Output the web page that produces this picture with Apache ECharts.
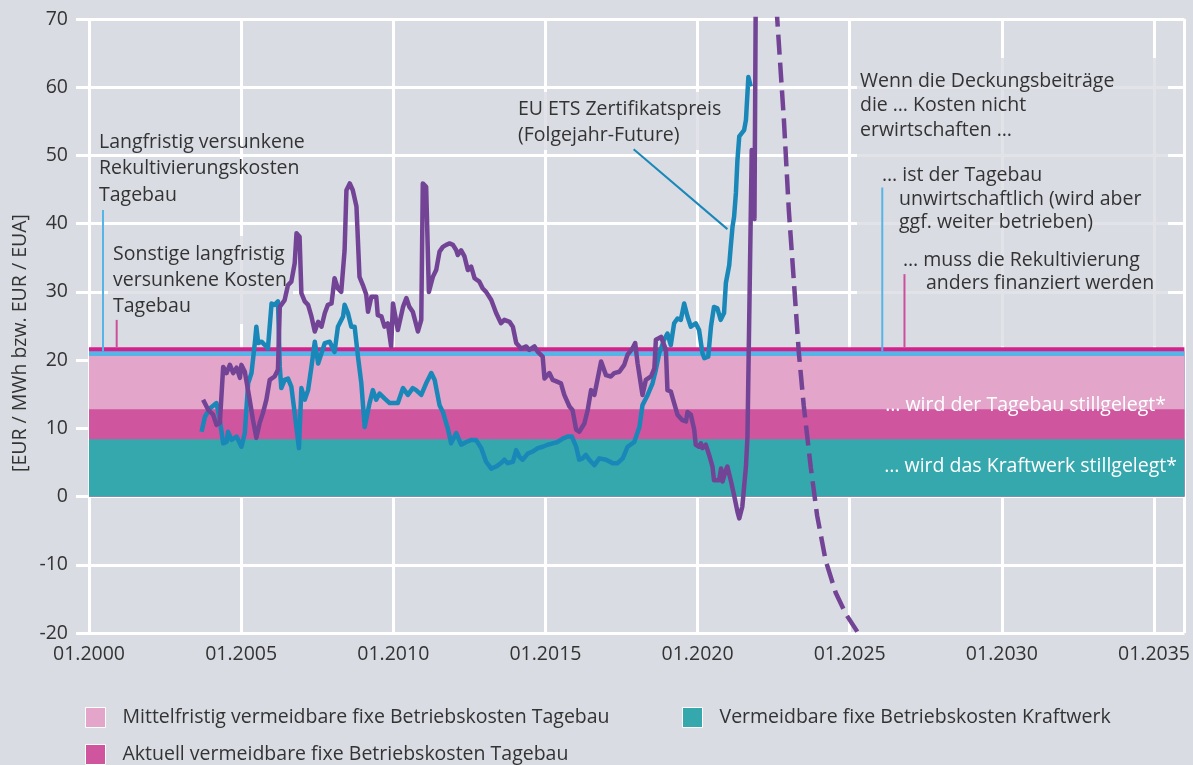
<!DOCTYPE html>
<html><head><meta charset="utf-8">
<script src="https://cdn.jsdelivr.net/npm/echarts@6/dist/echarts.min.js"></script>
<style>html,body{margin:0;padding:0;background:#d9dce3}#c{width:1193px;height:765px}</style>
</head><body><div id="c"></div>
<script>
// ---------- DATA ----------
// Deckungsbeitrag (purple), decimal years
const spreadYears = [2003.75,2003.92,2004.08,2004.19,2004.30,2004.41,2004.52,2004.63,2004.74,2004.85,2004.96,2005.01,2005.12,2005.28,2005.39,2005.50,2005.61,2005.72,2005.83,2005.94,2006.10,2006.21,2006.27,2006.43,2006.54,2006.65,2006.76,2006.82,2006.92,2006.98,2007.09,2007.20,2007.31,2007.42,2007.53,2007.64,2007.75,2007.85,2007.97,2008.07,2008.18,2008.29,2008.40,2008.46,2008.57,2008.67,2008.79,2008.89,2009.00,2009.11,2009.17,2009.28,2009.44,2009.49,2009.61,2009.71,2009.82,2009.93,2009.99,2010.15,2010.32,2010.43,2010.53,2010.64,2010.81,2010.92,2010.97,2011.08,2011.17,2011.30,2011.41,2011.52,2011.63,2011.74,2011.85,2011.96,2012.07,2012.12,2012.23,2012.34,2012.45,2012.56,2012.67,2012.83,2012.94,2013.05,2013.22,2013.38,2013.54,2013.65,2013.82,2013.93,2014.04,2014.20,2014.37,2014.47,2014.64,2014.75,2014.91,2014.97,2015.13,2015.24,2015.40,2015.51,2015.62,2015.79,2015.89,2016.01,2016.11,2016.28,2016.39,2016.50,2016.61,2016.83,2016.99,2017.15,2017.26,2017.43,2017.59,2017.70,2017.86,2017.95,2018.03,2018.19,2018.30,2018.47,2018.58,2018.63,2018.80,2018.96,2019.01,2019.12,2019.23,2019.34,2019.50,2019.62,2019.67,2019.78,2019.89,2019.94,2020.05,2020.11,2020.16,2020.27,2020.38,2020.49,2020.54,2020.71,2020.77,2020.82,2020.93,2020.98,2021.09,2021.20,2021.31,2021.37,2021.47,2021.59,2021.64,2021.78,2021.87,2021.96];
const spreadValues = [14.2,12.7,12.0,10.5,10.8,19.0,18.1,19.3,18.1,18.9,17.4,19.3,18.3,14.2,11.2,8.6,10.8,12.3,14.2,17.1,17.6,18.6,27.8,28.8,31.0,31.5,34.2,38.6,38.1,29.8,28.6,28.1,26.4,24.2,25.6,24.9,26.9,28.1,28.3,32.0,30.5,30.0,36.1,44.9,45.9,44.9,42.5,32.2,31.0,29.6,27.1,29.3,29.3,26.6,26.4,24.9,25.4,22.0,28.3,24.4,27.8,29.1,27.8,27.1,24.2,25.9,45.9,45.4,30.0,32.2,33.2,35.9,36.6,36.9,37.1,36.9,36.1,35.4,36.1,35.2,33.2,33.7,32.0,31.5,30.5,30.0,28.8,26.9,25.4,25.9,25.6,24.9,22.5,21.7,22.0,21.5,22.0,21.2,20.5,17.3,18.1,17.1,16.8,16.6,14.9,13.2,12.7,9.8,9.5,10.7,12.7,15.6,14.9,19.8,17.8,17.6,18.1,18.3,19.3,20.8,21.7,22.5,19.5,14.9,17.1,17.6,18.8,23.0,23.4,21.5,15.6,15.4,13.7,12.0,11.2,11.0,12.4,12.0,9.8,7.6,7.3,7.8,7.1,7.6,6.1,4.4,2.4,2.4,4.1,2.2,3.9,4.4,2.4,0.2,-2.2,-3.2,-1.5,4.4,8.8,50.8,40.7,110];
// Forward curve (dashed purple)
const forwardYears = [2022.47,2022.62,2022.84,2023.00,2023.17,2023.33,2023.49,2023.72,2023.93,2024.21,2024.54,2024.87,2025.25];
const forwardValues = [80,69.9,55.0,41.9,31.2,21.0,13.3,4.3,-2.8,-9.4,-14.1,-17.2,-19.8];
// EU ETS Zertifikatspreis (blue)
const euaYears = [2003.70,2003.81,2003.97,2004.19,2004.30,2004.41,2004.52,2004.57,2004.68,2004.85,2005.01,2005.12,2005.23,2005.34,2005.45,2005.50,2005.56,2005.67,2005.78,2005.88,2006.00,2006.10,2006.21,2006.27,2006.32,2006.43,2006.54,2006.65,2006.76,2006.90,2006.98,2007.09,2007.20,2007.31,2007.42,2007.53,2007.64,2007.75,2007.91,2008.07,2008.18,2008.35,2008.40,2008.51,2008.62,2008.73,2008.84,2008.95,2009.06,2009.22,2009.33,2009.44,2009.55,2009.71,2009.88,2010.15,2010.32,2010.48,2010.64,2010.75,2010.92,2011.08,2011.25,2011.36,2011.52,2011.63,2011.79,2011.90,2012.07,2012.23,2012.40,2012.56,2012.72,2012.89,2013.05,2013.22,2013.38,2013.54,2013.65,2013.76,2013.93,2014.04,2014.15,2014.25,2014.42,2014.58,2014.75,2014.91,2015.07,2015.24,2015.40,2015.57,2015.73,2015.87,2016.01,2016.11,2016.22,2016.33,2016.44,2016.61,2016.77,2016.99,2017.21,2017.37,2017.54,2017.70,2017.92,2018.09,2018.19,2018.36,2018.52,2018.63,2018.74,2018.80,2018.90,2019.01,2019.12,2019.23,2019.34,2019.45,2019.56,2019.67,2019.78,2019.94,2020.05,2020.16,2020.22,2020.35,2020.44,2020.54,2020.65,2020.76,2020.87,2020.93,2021.04,2021.09,2021.15,2021.20,2021.26,2021.31,2021.37,2021.53,2021.59,2021.67,2021.75];
const euaValues = [9.5,11.7,12.9,13.7,11.2,7.8,8.0,9.5,8.3,8.8,7.3,9.3,16.6,18.1,22.5,24.9,22.5,22.7,22.2,21.7,28.3,28.1,28.6,19.0,15.9,17.1,17.3,16.1,12.2,7.1,15.9,14.2,15.6,19.0,22.7,19.5,21.0,22.5,22.7,21.2,24.9,26.4,28.1,26.9,24.9,24.9,20.5,16.6,10.2,13.7,15.6,14.2,15.1,14.4,13.7,13.7,15.9,14.9,15.9,15.6,14.9,16.6,18.1,17.1,13.4,12.4,10.0,7.8,9.3,7.6,8.0,8.3,8.3,7.1,5.1,4.1,4.4,4.9,5.4,4.9,5.1,6.8,5.8,5.4,6.3,6.6,7.1,7.3,7.6,7.8,8.0,8.5,8.8,8.8,7.3,5.4,5.6,6.1,5.4,4.6,5.6,5.4,4.9,4.9,5.6,7.3,8.0,10.2,13.4,14.9,16.6,18.6,21.0,21.7,23.0,23.9,22.2,25.4,26.1,25.9,28.3,26.4,24.9,25.4,24.4,21.0,20.3,20.5,24.9,27.8,27.6,25.9,26.9,31.3,33.9,36.6,39.6,41.0,44.5,49.3,52.8,53.7,55.2,61.5,60.1];
// Cost bands (upper edge, EUR/MWh), drawn from top band to bottom band
const bandNames = ['Rekultivierungskosten (versunken)','Sonstige versunkene Kosten','Mittelfristig vermeidbare fixe Betriebskosten Tagebau','Aktuell vermeidbare fixe Betriebskosten Tagebau','Vermeidbare fixe Betriebskosten Kraftwerk'];
const bandTops = [21.9, 21.3, 20.6, 12.8, 8.4];
const bandColors = ['#d5218b','#56b4e6','#e3a5ca','#cf559f','#35a8ae'];
const bandStart = 2000, bandEnd = 2036;
// Annotation marker lines [year, bottom, top]
const markerLines = [
  {year: 2000.46, from: 21.3, to: 42.0, color: '#56b4e6'},
  {year: 2000.91, from: 21.9, to: 25.9, color: '#cc4f9a'},
  {year: 2026.07, from: 21.3, to: 45.3, color: '#56b4e6'},
  {year: 2026.80, from: 21.9, to: 32.6, color: '#cc4f9a'}
];
const leaderLine = [[2017.90, 50.9],[2020.98, 39.2]];
// Axis ticks
const xMin = 2000, xMax = 2036, xStep = 5;
const yMin = -20, yMax = 70, yStep = 10;
const legendNames = ['Mittelfristig vermeidbare fixe Betriebskosten Tagebau','Vermeidbare fixe Betriebskosten Kraftwerk','Aktuell vermeidbare fixe Betriebskosten Tagebau'];

// ---------- CHART ----------
const FONT = '"Open Sans"';
const FS = 19.5;
const TXT = '#333333';
const BG = '#d9dce3';
const zip = (a, b) => a.map((v, i) => [v, b[i]]);
const chart = echarts.init(document.getElementById('c'), null, {renderer: 'canvas'});

const series = [];
bandNames.forEach((n, i) => {
  series.push({
    name: n, type: 'line', symbol: 'none', z: 1, silent: true,
    data: [[bandStart, bandTops[i]], [bandEnd, bandTops[i]]],
    lineStyle: {width: 0}, itemStyle: {color: bandColors[i]},
    areaStyle: {color: bandColors[i], opacity: 1}
  });
});
markerLines.forEach(m => {
  series.push({type: 'line', symbol: 'none', z: 3, silent: true,
    data: [[m.year, m.from], [m.year, m.to]], lineStyle: {color: m.color, width: 2}});
});
series.push({name: 'EU ETS', type: 'line', symbol: 'none', z: 4, data: zip(euaYears, euaValues),
  lineStyle: {color: '#1a87b9', width: 4.5, join: 'round'}});
series.push({name: 'Deckungsbeitrag', type: 'line', symbol: 'none', z: 5, data: zip(spreadYears, spreadValues),
  lineStyle: {color: '#734496', width: 4.5, join: 'round'}});
series.push({name: 'Forward', type: 'line', symbol: 'none', z: 5, data: zip(forwardYears, forwardValues),
  lineStyle: {color: '#734496', width: 4.5, type: [20, 8]}});
series.push({type: 'line', symbol: 'none', z: 6, data: leaderLine, lineStyle: {color: '#1a87b9', width: 2}});

const legendCommon = {
  orient: 'horizontal', padding: 0, itemWidth: 20, itemHeight: 20, selectedMode: false, icon: 'rect',
  textStyle: {fontFamily: FONT, fontSize: FS, color: TXT, padding: [0, 0, 0, 12]}
};
const legendItem = name => ({name, itemStyle: {color: bandColors[bandNames.indexOf(name)], borderColor: '#ffffff', borderWidth: 1}});

const textBlock = (text, x, yCenter, lh, opts) => Object.assign({
  type: 'text', z: 10, silent: true, x: x, y: yCenter - lh / 2,
  style: {text, font: FS + 'px ' + FONT, fill: TXT, lineHeight: lh, align: 'left', verticalAlign: 'top'}
}, opts || {});
const box = (x, y, w, h) => ({type: 'rect', z: 1, silent: true, shape: {x, y, width: w, height: h}, style: {fill: 'rgba(217,220,227,0.8)'}});

const option = {
  animation: false,
  backgroundColor: BG,
  grid: {left: 89, right: 7, top: 19, bottom: 132, containLabel: false},
  xAxis: {
    type: 'value', min: xMin, max: xMax, interval: xStep,
    axisLine: {show: false}, axisTick: {show: false},
    splitLine: {show: true, lineStyle: {color: '#ffffff', width: 3}},
    axisLabel: {margin: 11, fontFamily: FONT, fontSize: FS, color: TXT,
      formatter: v => (v % xStep === 0 ? '01.' + v : '')}
  },
  yAxis: {
    type: 'value', min: yMin, max: yMax, interval: yStep,
    axisLine: {show: false},
    axisTick: {show: true, length: 13, lineStyle: {color: '#ffffff', width: 3}},
    splitLine: {show: true, lineStyle: {color: '#ffffff', width: 3}},
    axisLabel: {margin: 21, fontFamily: FONT, fontSize: FS, color: TXT}
  },
  legend: [
    Object.assign({left: 85, top: 707, data: [legendItem(legendNames[0])]}, legendCommon),
    Object.assign({left: 682, top: 707, data: [legendItem(legendNames[1])]}, legendCommon),
    Object.assign({left: 85, top: 744, data: [legendItem(legendNames[2])]}, legendCommon)
  ],
  graphic: [
    box(108, 236, 185, 88),
    box(514, 92, 215, 58),
    box(857, 58, 311, 288),
    {type: 'text', z: 10, silent: true, x: 20, y: 343, rotation: Math.PI / 2,
      style: {text: '[EUR / MWh bzw. EUR / EUA]', font: FS + 'px ' + FONT, fill: TXT, align: 'center', verticalAlign: 'middle'}},
    textBlock('Langfristig versunkene\nRekultivierungskosten\nTagebau', 99, 142.7, 26.2),
    textBlock('Sonstige langfristig\nversunkene Kosten\nTagebau', 113, 254, 26),
    textBlock('EU ETS Zertifikatspreis\n(Folgejahr-Future)', 518, 109.3, 25.7),
    textBlock('Wenn die Deckungsbeiträge\ndie … Kosten nicht\nerwirtschaften …', 860, 81.7, 24.2),
    textBlock('… ist der Tagebau', 882, 175, 24),
    textBlock('unwirtschaftlich (wird aber\nggf. weiter betrieben)', 899, 199, 23.8),
    textBlock('… muss die Rekultivierung', 903, 260, 24),
    textBlock('anders finanziert werden', 926, 283.5, 24),
    {type: 'text', z: 10, silent: true, x: 1166, y: 405,
      style: {text: '… wird der Tagebau stillgelegt*', font: FS + 'px ' + FONT, fill: '#ffffff', align: 'right', verticalAlign: 'middle'}},
    {type: 'text', z: 10, silent: true, x: 1177, y: 466,
      style: {text: '… wird das Kraftwerk stillgelegt*', font: FS + 'px ' + FONT, fill: '#ffffff', align: 'right', verticalAlign: 'middle'}}
  ],
  series
};
chart.setOption(option);
</script>
</body></html>
